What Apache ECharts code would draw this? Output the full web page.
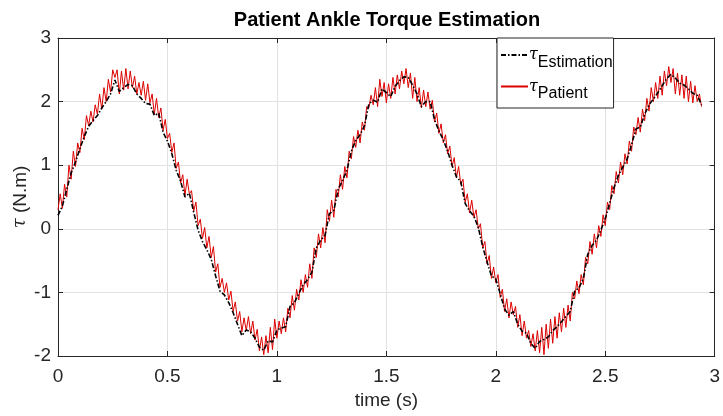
<!DOCTYPE html>
<html>
<head>
<meta charset="utf-8">
<title>Patient Ankle Torque Estimation</title>
<script src="https://cdn.jsdelivr.net/npm/echarts@6/dist/echarts.min.js"></script>
<style>
  html, body { margin: 0; padding: 0; background: #ffffff; }
  #chart { width: 723px; height: 416px; }
</style>
</head>
<body>
<div id="chart"></div>
<script>
// Estimated ankle torque (N.m), sampled every 0.02 s from t = 0
const estimationStep = 0.02;
const estimationTorque = [
  0.21, 0.36, 0.62, 0.88, 1.05, 1.26, 1.45, 1.61, 1.70, 1.78,
  1.90, 2.00, 2.12, 2.34, 2.16, 2.22, 2.27, 2.25, 2.12, 2.05,
  1.97, 1.96, 1.78, 1.82, 1.52, 1.38, 1.18, 0.92, 0.75, 0.50,
  0.56, 0.26, -0.02, -0.20, -0.33, -0.48, -0.74, -0.98, -1.04, -1.16,
  -1.32, -1.50, -1.68, -1.59, -1.62, -1.72, -1.86, -1.91, -1.76, -1.78,
  -1.59, -1.56, -1.54, -1.22, -1.16, -1.02, -0.88, -0.80, -0.68, -0.30,
  -0.18, -0.10, 0.24, 0.29, 0.62, 0.76, 0.92, 1.22, 1.39, 1.48,
  1.62, 1.96, 2.02, 1.99, 2.20, 2.14, 2.08, 2.24, 2.33, 2.39,
  2.38, 2.26, 2.12, 1.92, 2.00, 2.00, 1.72, 1.54, 1.40, 1.22,
  1.00, 0.82, 0.74, 0.40, 0.28, 0.20, 0.02, -0.28, -0.52, -0.74,
  -0.79, -1.02, -1.26, -1.36, -1.30, -1.50, -1.61, -1.64, -1.80, -1.88,
  -1.77, -1.74, -1.70, -1.60, -1.54, -1.46, -1.38, -1.30, -0.98, -0.93,
  -0.78, -0.40, -0.26, -0.18, -0.02, 0.16, 0.40, 0.65, 0.84, 0.97,
  1.10, 1.32, 1.57, 1.60, 1.80, 1.95, 2.04, 2.14, 2.25, 2.36,
  2.43, 2.37, 2.29, 2.26, 2.20, 2.13, 2.10, 1.95
];

// Measured patient ankle torque (N.m), sampled every 0.01 s from t = 0
const patientStep = 0.01;
const patientTorque = [
  0.30, 0.55, 0.32, 0.70, 0.50, 1.00, 0.78, 1.22, 0.98, 1.35,
  1.20, 1.58, 1.40, 1.78, 1.62, 1.85, 1.68, 1.95, 1.80, 2.12,
  1.88, 2.22, 2.00, 2.35, 2.15, 2.50, 2.38, 2.50, 2.12, 2.48,
  2.18, 2.52, 2.20, 2.48, 2.22, 2.40, 2.12, 2.30, 2.10, 2.32,
  2.02, 2.28, 1.98, 2.12, 1.80, 2.05, 1.75, 1.90, 1.55, 1.72,
  1.42, 1.50, 1.20, 1.35, 0.95, 1.05, 0.72, 0.85, 0.52, 0.78,
  0.55, 0.60, 0.28, 0.42, 0.05, 0.15, -0.15, 0.02, -0.30, -0.12,
  -0.45, -0.28, -0.68, -0.55, -0.92, -0.78, -1.00, -0.85, -1.12, -0.98,
  -1.30, -1.15, -1.45, -1.30, -1.62, -1.40, -1.60, -1.38, -1.65, -1.45,
  -1.75, -1.58, -1.92, -1.70, -1.98, -1.68, -1.95, -1.55, -1.90, -1.42,
  -1.72, -1.45, -1.65, -1.40, -1.62, -1.25, -1.40, -1.05, -1.28, -0.95,
  -1.12, -0.80, -1.00, -0.72, -0.92, -0.55, -0.78, -0.30, -0.45, -0.08,
  -0.30, 0.02, -0.22, 0.30, 0.12, 0.45, 0.18, 0.62, 0.50, 0.85,
  0.62, 0.98, 0.80, 1.22, 1.10, 1.45, 1.28, 1.55, 1.35, 1.68,
  1.55, 1.92, 1.90, 2.10, 1.95, 2.22, 1.92, 2.35, 2.08, 2.30,
  1.98, 2.28, 2.05, 2.38, 2.12, 2.42, 2.20, 2.48, 2.28, 2.52,
  2.22, 2.45, 2.05, 2.38, 2.00, 2.22, 1.90, 2.18, 1.92, 2.15,
  1.88, 2.02, 1.68, 1.82, 1.50, 1.65, 1.35, 1.48, 1.18, 1.30,
  0.98, 1.12, 0.80, 0.98, 0.70, 0.78, 0.42, 0.55, 0.25, 0.45,
  0.18, 0.30, 0.00, 0.08, -0.30, -0.20, -0.55, -0.42, -0.78, -0.60,
  -0.85, -0.72, -1.08, -0.95, -1.30, -1.10, -1.40, -1.15, -1.35, -1.22,
  -1.55, -1.35, -1.68, -1.45, -1.72, -1.60, -1.85, -1.65, -1.92, -1.60,
  -1.95, -1.55, -1.98, -1.50, -1.88, -1.42, -1.80, -1.38, -1.72, -1.32,
  -1.62, -1.25, -1.55, -1.20, -1.45, -1.00, -1.10, -0.82, -1.02, -0.72,
  -0.88, -0.45, -0.55, -0.20, -0.40, -0.08, -0.30, 0.05, -0.12, 0.22,
  0.05, 0.42, 0.30, 0.68, 0.55, 0.90, 0.72, 1.05, 0.85, 1.18,
  1.02, 1.38, 1.22, 1.60, 1.48, 1.75, 1.52, 1.88, 1.70, 2.05,
  1.85, 2.22, 2.00, 2.30, 2.05, 2.40, 2.10, 2.48, 2.25, 2.55,
  2.30, 2.52, 2.12, 2.45, 2.10, 2.42, 2.05, 2.40, 2.00, 2.32,
  1.98, 2.25, 2.00, 2.12, 1.92
];

// Axis ranges and tick spacing
const timeRange = [0, 3];
const timeTickStep = 0.5;
const torqueRange = [-2, 3];
const torqueTickStep = 1;

const textFont = '"Liberation Sans", Arial, Helvetica, sans-serif';
const greekFont = '"DejaVu Serif", serif';
const inkColor = '#262626';
const gridColor = '#e2e2e2';

const toPairs = (values, step) =>
  values.map((v, i) => [Number((i * step).toFixed(2)), v]);

const chart = echarts.init(document.getElementById('chart'), null, { renderer: 'canvas' });

const baseAxis = {
  type: 'value',
  axisLine: { show: true, onZero: false, lineStyle: { color: inkColor, width: 1 } },
  axisTick: { show: true, inside: true, length: 5, lineStyle: { color: inkColor, width: 1 } }
};

chart.setOption({
  animation: false,
  backgroundColor: '#ffffff',
  title: {
    text: 'Patient Ankle Torque Estimation',
    left: 387,
    top: 10,
    textAlign: 'center',
    padding: 0,
    textStyle: { fontFamily: textFont, fontSize: 20, fontWeight: 'bold', color: '#000000' }
  },
  grid: { left: 58, right: 6, top: 38, bottom: 60, containLabel: false },
  legend: {
    data: ['Estimation', 'Patient'],
    orient: 'vertical',
    left: 497,
    top: 38,
    padding: [9, 1, 6, 3],
    itemGap: 8,
    itemWidth: 27,
    itemHeight: 14,
    // line samples only, no marker in the middle
    itemStyle: { opacity: 0 },
    backgroundColor: '#ffffff',
    borderColor: inkColor,
    borderWidth: 1,
    borderRadius: 0,
    formatter: name => '{t|τ}{s|' + name + '}',
    textStyle: {
      padding: [0, 0, 0, -4],
      rich: {
        t: { fontFamily: greekFont, fontStyle: 'italic', fontSize: 16, color: '#000000' },
        s: { fontFamily: textFont, fontSize: 16, color: '#000000', padding: [15, 0, 0, 0] }
      }
    }
  },
  xAxis: [
    Object.assign({}, baseAxis, {
      position: 'bottom',
      min: timeRange[0], max: timeRange[1], interval: timeTickStep,
      axisLabel: { color: inkColor, fontFamily: textFont, fontSize: 19, margin: 11 },
      splitLine: { show: true, lineStyle: { color: gridColor, width: 1 } },
      name: 'time (s)',
      nameLocation: 'middle',
      nameGap: 35,
      nameMoveOverlap: false,
      nameTextStyle: { color: inkColor, fontFamily: textFont, fontSize: 19 }
    }),
    Object.assign({}, baseAxis, {
      position: 'top',
      min: timeRange[0], max: timeRange[1], interval: timeTickStep,
      axisLabel: { show: false },
      splitLine: { show: false }
    })
  ],
  yAxis: [
    Object.assign({}, baseAxis, {
      position: 'left',
      min: torqueRange[0], max: torqueRange[1], interval: torqueTickStep,
      axisLabel: { color: inkColor, fontFamily: textFont, fontSize: 19, margin: 7 },
      splitLine: { show: true, lineStyle: { color: gridColor, width: 1 } },
      name: '{t|τ} (N.m)',
      nameLocation: 'middle',
      nameGap: 28,
      nameRotate: 90,
      nameMoveOverlap: false,
      nameTextStyle: {
        color: inkColor, fontFamily: textFont, fontSize: 19,
        rich: {
          t: { fontFamily: greekFont, fontStyle: 'italic', fontSize: 18, color: inkColor }
        }
      }
    }),
    Object.assign({}, baseAxis, {
      position: 'right',
      min: torqueRange[0], max: torqueRange[1], interval: torqueTickStep,
      axisLabel: { show: false },
      splitLine: { show: false }
    })
  ],
  series: [
    {
      name: 'Estimation',
      type: 'line',
      xAxisIndex: 0,
      yAxisIndex: 0,
      data: toPairs(estimationTorque, estimationStep),
      symbol: 'none',
      z: 3,
      lineStyle: { color: '#000000', width: 1.6, type: [5, 2, 1.5, 2] },
      itemStyle: { color: '#000000' }
    },
    {
      name: 'Patient',
      type: 'line',
      xAxisIndex: 0,
      yAxisIndex: 0,
      data: toPairs(patientTorque, patientStep),
      symbol: 'none',
      z: 2,
      lineStyle: { color: '#dc0000', width: 1 },
      itemStyle: { color: '#dc0000' }
    }
  ]
});
</script>
</body>
</html>
